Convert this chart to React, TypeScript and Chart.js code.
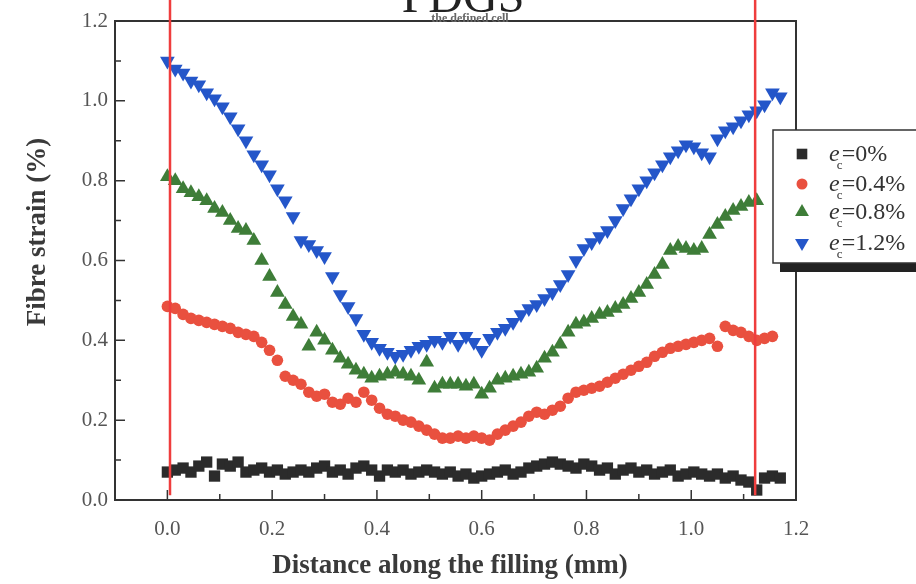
import React, { useEffect, useRef } from "react";
import { Chart, registerables } from "chart.js";
Chart.register(...registerables);

// ---------- data ----------
const X = [0.000,0.015,0.030,0.045,0.060,0.075,0.090,0.105,0.120,0.135,0.150,0.165,0.180,0.195,0.210,0.225,0.240,0.255,0.270,0.285,0.300,0.315,0.330,0.345,0.360,0.375,0.390,0.405,0.420,0.435,0.450,0.465,0.480,0.495,0.510,0.525,0.540,0.555,0.570,0.585,0.600,0.615,0.630,0.645,0.660,0.675,0.690,0.705,0.720,0.735,0.750,0.765,0.780,0.795,0.810,0.825,0.840,0.855,0.870,0.885,0.900,0.915,0.930,0.945,0.960,0.975,0.990,1.005,1.020,1.035,1.050,1.065,1.080,1.095,1.110,1.125,1.140,1.155,1.170];

const STRAIN_0 = [0.07,0.075,0.08,0.07,0.085,0.095,0.06,0.09,0.085,0.095,
0.07,0.075,0.08,0.07,0.075,0.065,0.07,0.075,0.07,0.08,
0.085,0.07,0.075,0.065,0.08,0.085,0.075,0.06,0.075,0.07,
0.075,0.065,0.07,0.075,0.07,0.065,0.07,0.06,0.065,0.055,
0.06,0.065,0.07,0.075,0.065,0.07,0.08,0.085,0.09,0.095,
0.09,0.085,0.08,0.09,0.085,0.075,0.08,0.065,0.075,0.08,
0.07,0.075,0.065,0.07,0.075,0.06,0.065,0.07,0.065,0.06,
0.065,0.055,0.06,0.05,0.045,0.025,0.055,0.06,0.055];

const STRAIN_04 = [0.485,0.48,0.465,0.455,0.45,0.445,0.44,0.435,0.43,0.42,
0.415,0.41,0.395,0.375,0.35,0.31,0.30,0.29,0.27,0.26,
0.265,0.245,0.24,0.255,0.245,0.27,0.25,0.23,0.215,0.21,
0.20,0.195,0.185,0.175,0.165,0.155,0.155,0.16,0.155,0.16,
0.155,0.15,0.165,0.175,0.185,0.195,0.21,0.22,0.215,0.225,
0.235,0.255,0.27,0.275,0.28,0.285,0.295,0.305,0.315,0.325,
0.335,0.345,0.36,0.37,0.38,0.385,0.39,0.395,0.40,0.405,
0.385,0.435,0.425,0.42,0.41,0.40,0.405,0.41];

const STRAIN_08 = [0.81,0.80,0.78,0.77,0.76,0.75,0.73,0.72,0.70,0.68,
0.675,0.65,0.60,0.56,0.52,0.49,0.46,0.44,0.385,0.42,
0.40,0.375,0.355,0.34,0.325,0.315,0.305,0.31,0.315,0.32,
0.315,0.31,0.30,0.345,0.28,0.29,0.29,0.29,0.285,0.29,
0.265,0.28,0.30,0.305,0.31,0.315,0.32,0.33,0.355,0.37,
0.39,0.42,0.44,0.445,0.455,0.465,0.47,0.48,0.49,0.505,
0.52,0.54,0.565,0.59,0.625,0.635,0.63,0.625,0.63,0.665,
0.69,0.71,0.725,0.735,0.745,0.75];

const STRAIN_12 = [1.10,1.08,1.07,1.05,1.04,1.02,1.005,0.985,0.96,0.93,
0.90,0.865,0.84,0.815,0.78,0.75,0.71,0.65,0.64,0.625,
0.61,0.56,0.515,0.485,0.455,0.415,0.395,0.38,0.37,0.36,
0.365,0.375,0.385,0.39,0.40,0.395,0.41,0.39,0.41,0.395,
0.375,0.405,0.42,0.43,0.445,0.465,0.48,0.49,0.505,0.52,
0.54,0.565,0.60,0.63,0.645,0.66,0.675,0.70,0.73,0.755,
0.78,0.80,0.82,0.84,0.86,0.875,0.89,0.885,0.87,0.86,
0.905,0.925,0.935,0.95,0.965,0.975,0.99,1.02,1.01];

const SERIES_LABELS = ["0%", "0.4%", "0.8%", "1.2%"];
const X_TICKS = [0, 0.2, 0.4, 0.6, 0.8, 1.0, 1.2];
const X_MINOR = [0.1, 0.3, 0.5, 0.7, 0.9, 1.1];
const Y_TICKS = [0, 0.2, 0.4, 0.6, 0.8, 1.0, 1.2];
const Y_MINOR = [0.1, 0.3, 0.5, 0.7, 0.9, 1.1];
const CUT_LINES = [0.005, 1.122];
const CUT_BOTTOM = 0.012;

const COLORS = ["#2b2b2b", "#e9503f", "#3e7d38", "#2456c9"];
const SHAPES = ["rect", "circle", "triangle", "triangle"];
const ROT = [0, 0, 0, 180];
const RADII = [8, 5.8, 8.5, 8.5];
const LEGEND_RADII = [7.5, 5.5, 8, 8];

const SERIF = "'Liberation Serif', 'Times New Roman', serif";

function drawMarker(ctx, shape, rot, x, y, r, color) {
  ctx.save();
  ctx.fillStyle = color;
  ctx.beginPath();
  if (shape === "rect") {
    const s = Math.SQRT1_2 * r;
    ctx.rect(x - s, y - s, 2 * s, 2 * s);
  } else if (shape === "circle") {
    ctx.arc(x, y, r, 0, Math.PI * 2);
  } else {
    let a = (rot * Math.PI) / 180;
    ctx.moveTo(x + Math.sin(a) * r, y - Math.cos(a) * r);
    a += (2 * Math.PI) / 3;
    ctx.lineTo(x + Math.sin(a) * r, y - Math.cos(a) * r);
    a += (2 * Math.PI) / 3;
    ctx.lineTo(x + Math.sin(a) * r, y - Math.cos(a) * r);
    ctx.closePath();
  }
  ctx.fill();
  ctx.restore();
}

const decor = {
  id: "decor",
  beforeDatasetsDraw(chart) {
    const { ctx, chartArea: a, scales } = chart;
    const x = scales.x, y = scales.y;
    ctx.save();
    ctx.strokeStyle = "#333";
    ctx.lineWidth = 2;
    ctx.strokeRect(a.left, a.top, a.right - a.left, a.bottom - a.top);
    ctx.lineWidth = 1.5;
    ctx.beginPath();
    X_TICKS.forEach((v) => { const p = x.getPixelForValue(v); ctx.moveTo(p, a.bottom); ctx.lineTo(p, a.bottom - 10); });
    X_MINOR.forEach((v) => { const p = x.getPixelForValue(v); ctx.moveTo(p, a.bottom); ctx.lineTo(p, a.bottom - 6); });
    Y_TICKS.forEach((v) => { const p = y.getPixelForValue(v); ctx.moveTo(a.left, p); ctx.lineTo(a.left + 10, p); });
    Y_MINOR.forEach((v) => { const p = y.getPixelForValue(v); ctx.moveTo(a.left, p); ctx.lineTo(a.left + 6, p); });
    ctx.stroke();

    // axis titles
    ctx.fillStyle = "#3a3a3a";
    ctx.font = `bold 27px ${SERIF}`;
    ctx.textAlign = "center";
    ctx.textBaseline = "middle";
    ctx.fillText("Distance along the filling (mm)", 450, 566);
    ctx.save();
    ctx.translate(38, 232);
    ctx.rotate(-Math.PI / 2);
    ctx.fillText("Fibre strain (%)", 0, 0);
    ctx.restore();

    // clipped header text
    ctx.fillStyle = "#222";
    ctx.font = `48px ${SERIF}`;
    ctx.textBaseline = "alphabetic";
    ctx.fillText("PDGS", 463, 12);
    ctx.fillStyle = "#666";
    ctx.font = `bold 12px ${SERIF}`;
    ctx.fillText("the defined cell", 470, 22);
    ctx.restore();
  },
  afterDraw(chart) {
    const { ctx, scales } = chart;
    const x = scales.x, y = scales.y;
    ctx.save();
    // red cut lines
    ctx.strokeStyle = "#ef3d3d";
    ctx.lineWidth = 2.5;
    CUT_LINES.forEach((v) => {
      const p = x.getPixelForValue(v);
      ctx.beginPath();
      ctx.moveTo(p, 0);
      ctx.lineTo(p, y.getPixelForValue(CUT_BOTTOM));
      ctx.stroke();
    });

    // legend
    const L = 773, T = 130, B = 263;
    ctx.fillStyle = "#222";
    ctx.fillRect(780, B, 140, 9);
    ctx.fillStyle = "#fff";
    ctx.fillRect(L, T, 160, B - T);
    ctx.strokeStyle = "#333";
    ctx.lineWidth = 1.5;
    ctx.strokeRect(L, T, 160, B - T);
    const rows = [154, 184, 212, 243];
    SERIES_LABELS.forEach((lab, i) => {
      const yy = rows[i];
      drawMarker(ctx, SHAPES[i], ROT[i], 802, yy, LEGEND_RADII[i], COLORS[i]);
      ctx.fillStyle = "#333";
      ctx.textAlign = "left";
      ctx.textBaseline = "alphabetic";
      ctx.font = `italic 24px ${SERIF}`;
      let tx = 829;
      ctx.fillText("e", tx, yy + 7);
      tx += ctx.measureText("e").width;
      ctx.font = `13px ${SERIF}`;
      ctx.fillText("c", tx - 3, yy + 15);
      ctx.font = `24px ${SERIF}`;
      ctx.fillText("=" + lab, tx + 2, yy + 7);
    });
    ctx.restore();
  },
};

export default function App() {
  const ref = useRef(null);
  useEffect(() => {
    document.body.style.margin = "0";
    const series = [STRAIN_0, STRAIN_04, STRAIN_08, STRAIN_12];
    const datasets = series.map((ys, i) => ({
      label: "e_c=" + SERIES_LABELS[i],
      data: ys.map((v, j) => ({ x: X[j], y: v })),
      showLine: false,
      pointStyle: SHAPES[i],
      rotation: ROT[i],
      pointRadius: RADII[i],
      pointBackgroundColor: COLORS[i],
      pointBorderColor: COLORS[i],
      pointBorderWidth: 0,
    }));
    const tickFont = { family: SERIF, size: 21 };
    const chart = new Chart(ref.current, {
      type: "scatter",
      data: { datasets },
      plugins: [decor],
      options: {
        animation: false,
        responsive: false,
        events: [],
        layout: { padding: { top: 21, right: 120, left: 0, bottom: 0 } },
        plugins: { legend: { display: false }, tooltip: { enabled: false } },
        scales: {
          x: {
            type: "linear",
            min: -0.1,
            max: 1.2,
            grid: { display: false, drawTicks: false },
            border: { display: false },
            afterBuildTicks: (ax) => { ax.ticks = X_TICKS.map((v) => ({ value: v })); },
            afterFit: (ax) => { ax.height = 84; },
            ticks: {
              padding: 17,
              color: "#555",
              font: tickFont,
              maxRotation: 0,
              autoSkip: false,
              callback: (v) => Number(v).toFixed(1),
            },
          },
          y: {
            type: "linear",
            min: 0,
            max: 1.2,
            grid: { display: false, drawTicks: false },
            border: { display: false },
            afterBuildTicks: (ax) => { ax.ticks = Y_TICKS.map((v) => ({ value: v })); },
            afterFit: (ax) => { ax.width = 115; },
            ticks: {
              padding: 7,
              color: "#555",
              font: tickFont,
              autoSkip: false,
              callback: (v) => Number(v).toFixed(1),
            },
          },
        },
      },
    });
    return () => chart.destroy();
  }, []);
  return (
    <div style={{ width: 916, height: 584, background: "#fff" }}>
      <canvas ref={ref} width={916} height={584} style={{ display: "block" }} />
    </div>
  );
}
